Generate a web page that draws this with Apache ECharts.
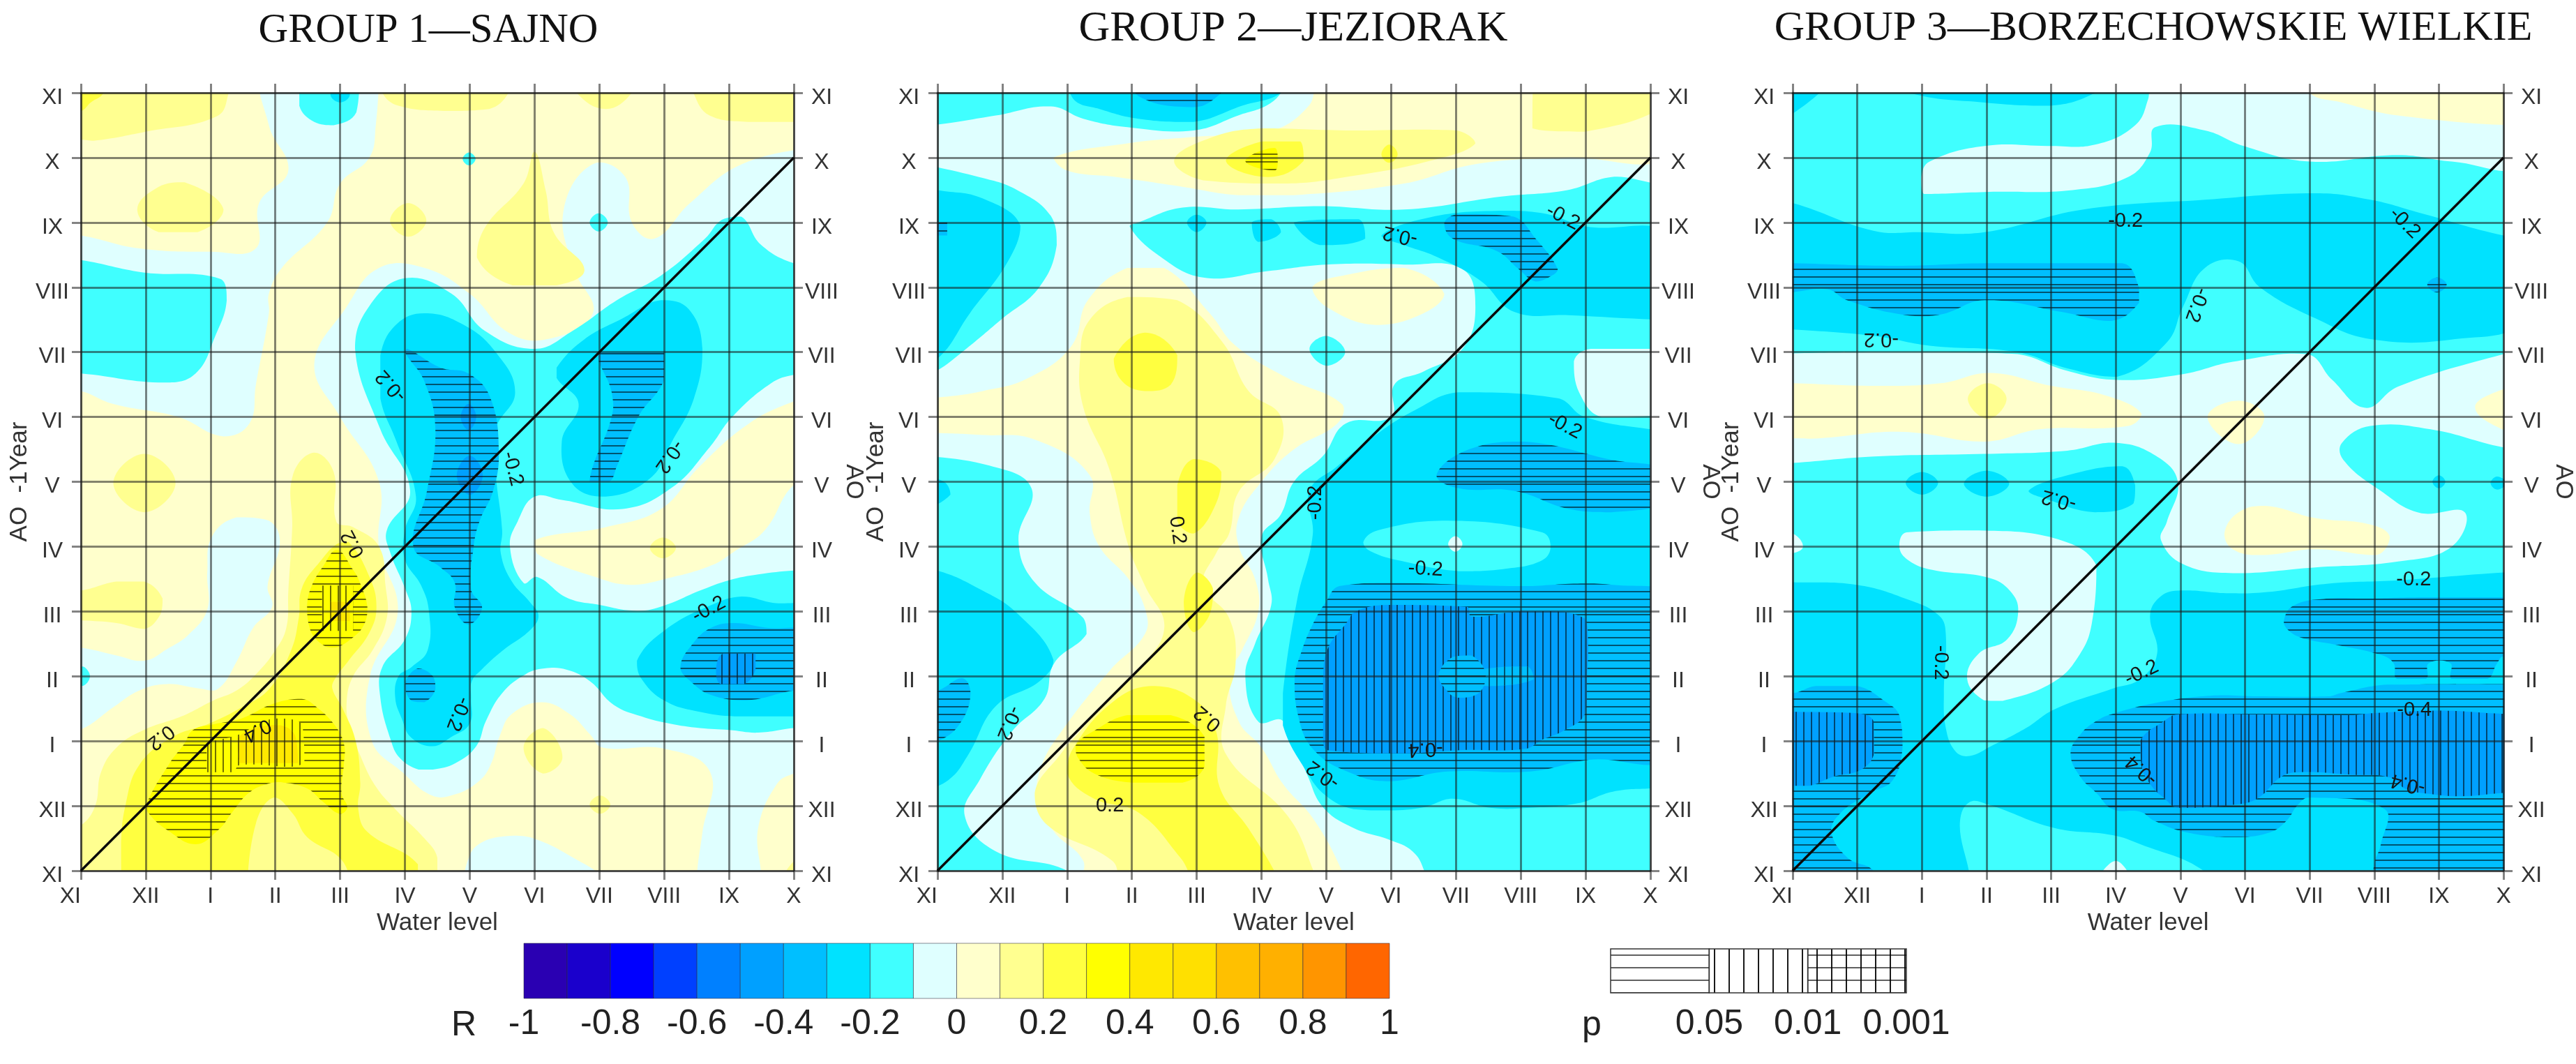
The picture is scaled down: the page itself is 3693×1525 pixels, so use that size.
<!DOCTYPE html>
<html><head><meta charset="utf-8">
<style>html,body{margin:0;padding:0;background:#fff}#c{width:3693px;height:1525px}</style>
<script src="https://cdn.jsdelivr.net/npm/echarts@6/dist/echarts.min.js"></script>
</head><body><div id="c"></div>
<script>
const xLabels = ['XI','XII','I','II','III','IV','V','VI','VII','VIII','IX','X'];
const yLabels = ['XI','XII','I','II','III','IV','V','VI','VII','VIII','IX','X','XI'];
const titles = ['GROUP 1—SAJNO','GROUP 2—JEZIORAK','GROUP 3—BORZECHOWSKIE WIELKIE'];
const bandEdges = [-1,-0.9,-0.8,-0.7,-0.6,-0.5,-0.4,-0.3,-0.2,-0.1,0,0.1,0.2,0.3,0.4,0.5,0.6,0.7,0.8,0.9];
const bandColors = ['#2A00B2','#1A00CC','#0000FF','#0040FF','#0080FF','#00A0FF','#00BFFF','#00E2FF','#40FFFF','#DFFFFF','#FFFFCC','#FFFF90','#FFFF40','#FFFF00','#FFE800','#FFE000','#FFC000','#FFB000','#FF9500','#FF6600'];
const colorbarTicks = [-1,-0.8,-0.6,-0.4,-0.2,0,0.2,0.4,0.6,0.8,1];
const pLabels = ['','0.05','0.01','0.001'];
const diagonal = [[0,0],[11,11]];

// each layer: [R band (null = no fill), hatch (0 none, 1 p<0.05 horizontal, 2 p<0.01 vertical), contour outline in axis units]
const g1Base = 0.05;
const g1Layers = [
 [-0.05,0,[[-.3,9.8],[0,9.8],[.9,9.6],[2,9.55],[2.7,9.6],[2.75,10.3],[3.2,10.8],[2.9,11.5],[2.85,12.3],[4.6,12.3],[4.55,11.5],[4.45,11],[4,10.6],[3.8,10],[3.1,9.3],[2.9,8.9],[2.9,8.6],[2.7,7.5],[2.6,6.9],[2.2,6.7],[1.5,7],[.5,7.2],[0,7.4],[-.3,7.4]]],
 [-0.05,0,[[11.3,11.15],[10.2,10.9],[9.4,10.3],[8.85,9.75],[8.5,10],[8.4,10.7],[7.9,10.9],[7.45,10.2],[7.6,9.3],[7.9,8.6],[7.2,8.2],[6.6,8.3],[6,8.9],[5.3,9.3],[4.6,9.3],[4.1,8.7],[3.6,7.8],[4,7],[4.6,6],[4.6,5],[4.89,4],[4.46,3],[4.49,2],[4.96,1.52],[5.42,1.16],[5.78,1.18],[6.14,1.38],[6.32,1.63],[6.47,2.1],[6.65,2.42],[7.11,2.6],[7.54,2.42],[7.86,2.1],[8.05,1.9],[9.01,1.88],[9.71,1.52],[9.59,.59],[9.51,0],[9.5,-.3],[10.41,-.3],[10.45,.66],[10.74,1.34],[11,1.5],[11.3,1.55]]],
 [-0.05,0,[[-.3,3.44],[0,3.44],[.55,3.32],[.98,3.24],[1.33,3.42],[1.66,3.64],[1.95,4.03],[1.95,4.6],[2.02,5.15],[2.4,5.45],[2.9,5.4],[3.07,5.07],[2.88,4.39],[2.95,4.07],[2.66,3.75],[2.41,3.24],[2.12,2.81],[1.84,2.81],[1.33,2.88],[.9,2.78],[.51,2.53],[0,2.18],[-.3,2.18]]],
 [-0.05,0,[[5.9,-.3],[5.95,.1],[6.14,.41],[6.67,.54],[7.04,.48],[7.6,.2],[8.05,-.1],[8.1,-.3]]],
 [0.05,0,[[7,5.1],[8.1,5.3],[8.95,5.58],[9.55,6.24],[10.31,6.9],[11,7.24],[11.3,7.3],[11.3,5.9],[11,5.95],[10.55,5.25],[10.09,4.93],[9.73,4.71],[9.01,4.5],[8.47,4.41],[7.94,4.53],[7.04,4.89]]],
 [0.15,0,[[-.3,12.3],[2.3,12.3],[2.28,12],[2.1,11.64],[1,11.4],[.2,11.26],[0,11.28],[-.3,11.28]]],
 [0.25,0,[[-.3,12.3],[.4,12.3],[.35,12],[.15,11.85],[0,11.72],[-.3,11.72]]],
 [0.15,0,[[.87,10.2],[1.2,10.55],[1.6,10.62],[2.2,10.2],[1.8,9.85],[1.2,9.85]]],
 [0.15,0,[[4.6,12.3],[4.65,12],[4.9,11.8],[5.6,11.72],[6.3,11.75],[6.6,12],[6.65,12.3]]],
 [0.15,0,[[7.6,12.3],[7.65,12],[8.1,11.75],[8.5,12],[8.55,12.3]]],
 [0.15,0,[[9.4,12.3],[9.45,12],[9.7,11.65],[10.3,11.55],[11,11.55],[11.3,11.55],[11.3,12.3]]],
 [0.15,0,[[4.77,10.03],[5.05,10.3],[5.33,10.03],[5.05,9.78]]],
 [0.15,0,[[7,11.09],[7.17,10.5],[7.3,9.84],[7.77,9.27],[7.34,9.03],[6.66,9.03],[6.11,9.46],[6.24,9.93],[6.83,10.6]]],
 [0.15,0,[[.5,5.98],[.98,6.43],[1.46,5.98],[.98,5.53]]],
 [0.15,0,[[-.3,4.32],[0,4.32],[.55,4.46],[.98,4.46],[1.26,4.2],[1.23,3.96],[.98,3.73],[.55,3.82],[0,3.86],[-.3,3.86]]],
 [0.15,0,[[-.3,.62],[0,.7],[.22,1],[.31,1.52],[.55,1.9],[.97,2.17],[1.55,2.38],[2.05,2.63],[2.4,2.78],[2.7,3.03],[3,3.4],[3.17,3.75],[3.2,4.3],[3.26,5.29],[3.27,6.1],[3.6,6.45],[3.9,6.15],[3.94,5.39],[4.2,5.3],[4.6,5],[4.7,4.4],[4.72,3.9],[4.5,3.4],[4.2,3],[4.1,2.6],[4.15,2.2],[4.3,1.8],[4.55,1.3],[4.9,.9],[5.3,.5],[5.5,.2],[5.5,-.3],[-.3,-.3]]],
 [0.25,0,[[.64,-.3],[.62,.41],[.69,1.02],[.9,1.63],[1.41,2.06],[1.98,2.27],[2.48,2.52],[2.91,2.81],[3.24,3.39],[3.36,3.89],[3.41,4.36],[3.7,4.78],[3.95,5.04],[4.13,5.07],[4.45,4.54],[4.56,4.07],[4.45,3.67],[4.13,3.24],[3.92,2.96],[3.88,2.81],[4.03,2.52],[4.24,2],[4.31,1.36],[4.28,.95],[4.42,.6],[5.2,.1],[5.2,-.3]]],
 [0.15,0,[[2.57,-.3],[2.7,.73],[2.98,1.13],[3.27,.88],[3.49,.52],[4.03,.16],[4.17,-.3]]],
 [0.35,1,[[1.05,.88],[1.01,1.02],[1.37,1.66],[1.59,1.95],[1.73,2.17],[2.05,2.26],[2.48,2.35],[2.98,2.58],[3.41,2.65],[3.63,2.53],[3.92,2.24],[4.06,1.95],[4.06,1.67],[4.02,1.2],[4.11,.98],[3.99,.88],[3.74,1.06],[3.49,1.27],[3.13,1.36],[2.88,1.34],[2.59,1.2],[2.34,.91],[2.12,.63],[1.77,.41],[1.33,.63]]],
 [0.35,2,[[1.94,1.52],[1.94,1.92],[2.41,2.09],[2.98,2.35],[3.41,2.27],[3.45,1.66],[2.45,1.63],[2.34,1.52]]],
 [0.45,2,[[2.45,1.66],[2.42,2.05],[3,2.25],[3.3,2.1],[3.35,1.66]]],
 [0.35,1,[[3.95,4.95],[4.2,4.64],[4.31,4.43],[4.42,4.07],[4.38,3.82],[4.2,3.6],[3.88,3.44],[3.63,3.57],[3.51,3.82],[3.49,4.1],[3.56,4.39],[3.74,4.7]]],
 [0.35,2,[[3.72,4.4],[4.2,4.4],[4.2,3.7],[3.72,3.7]]],
 [0.45,2,[[3.85,4.15],[4.15,4.15],[4.15,3.85],[3.85,3.85]]],
 // negative side
 [-0.15,0,[[-.3,9.42],[0,9.42],[.96,9.23],[2.15,9.13],[2.25,8.8],[2.07,8.24],[1.77,7.67],[1.3,7.53],[0,7.67],[-.3,7.67]]],
 [-0.15,0,[[3.37,12.3],[3.37,11.8],[3.6,11.55],[3.9,11.5],[4.25,11.7],[4.3,12.3]]],
 [-0.25,0,[[3.85,11.97],[4,12.1],[4.15,11.97],[4,11.85]]],
 [-0.15,0,[[5.89,10.98],[5.99,11.08],[6.09,10.98],[5.99,10.88]]],
 [-0.15,0,[[7.85,10],[7.99,10.14],[8.13,10],[7.99,9.86]]],
 [-0.15,0,[[-.08,3],[.02,3.15],[.14,3],[.02,2.85]]],
 [-0.15,0,[[11.3,4.63],[11,4.63],[10.45,4.57],[10,4.48],[9.55,4.32],[9,4.09],[8.58,4.01],[8,4.1],[7.5,4.21],[7.04,4.53],[6.83,4.44],[6.62,5],[6.74,5.39],[7,5.77],[7.42,5.72],[8.36,5.58],[9.12,5.91],[9.7,6.53],[10.05,7],[10.65,7.52],[11,7.65],[11.3,7.65],[11.3,9.37],[11,9.37],[10.49,9.66],[10.19,10.09],[9.89,10.04],[9.63,9.75],[8.95,9.18],[8.27,8.8],[7.59,8.33],[7,8.05],[6.23,8.33],[5.72,8.9],[5,9.14],[4.45,8.71],[4.23,8.05],[4.62,6.81],[5.08,5.86],[4.72,5.25],[4.78,4.89],[5,4.36],[5.1,4],[5,3.57],[4.65,3.14],[4.62,2.67],[4.78,2.02],[4.92,1.74],[5.21,1.56],[5.43,1.56],[5.78,1.66],[6.1,1.92],[6.25,2.31],[6.5,2.74],[6.86,3.03],[7.15,3.12],[7.5,3.1],[7.86,2.92],[8.22,2.56],[8.65,2.38],[9.08,2.27],[9.55,2.2],[10,2.17],[10.45,2.13],[11,2.2],[11.3,2.2]]],
 [-0.25,0,[[4.62,7.95],[4.87,8.43],[5.3,8.6],[5.89,8.43],[6.4,8],[6.7,7.38],[6.4,6.81],[6.4,6.15],[6.5,5.25],[6.48,4.89],[6.65,4.46],[6.93,4.14],[7.06,3.93],[6.93,3.71],[6.5,3.39],[6.18,3.1],[6.03,2.92],[6.02,2.67],[6,2.27],[5.71,2.06],[5.43,1.92],[5.1,2.05],[4.95,2.35],[4.85,2.67],[4.9,3],[5.1,3.14],[5.35,3.4],[5.37,4],[5.25,4.4],[5,4.8],[5,5.25],[5.17,5.77],[4.87,6.62],[4.62,7.29]]],
 [-0.25,0,[[7.34,7.76],[7.76,8.19],[8.36,8.52],[8.95,8.8],[9.38,8.66],[9.59,8.05],[9.46,7.29],[9.12,6.62],[8.78,6.05],[8.1,5.77],[7.59,5.96],[7.42,6.62],[7.68,7.2],[7.34,7.6]]],
 [-0.25,0,[[11.3,4],[10.63,4.14],[10.2,4.23],[9.73,4.1],[9.01,3.71],[8.58,3.24],[8.65,2.96],[9.01,2.62],[9.55,2.45],[10.09,2.38],[10.9,2.38],[11.3,2.38]]],
 [-0.35,1,[[11.3,3.67],[10.56,3.75],[10.09,3.82],[9.73,3.75],[9.44,3.5],[9.25,3.14],[9.41,2.92],[9.73,2.71],[10.27,2.63],[11,2.78],[11.3,2.78]]],
 [-0.45,2,[[9.8,3.1],[9.91,3.35],[10.41,3.35],[10.41,3.1],[10.23,2.88],[9.87,2.88]]],
 [-0.35,1,[[5,2.87],[5.2,3.12],[5.43,3],[5.47,2.8],[5.3,2.6],[5.1,2.62]]],
 [-0.35,0,[[5.04,8.05],[5.55,7.76],[5.98,7.67],[6.32,7.29],[6.45,6.43],[6.36,5.86],[6.15,5.39],[6.06,5],[6.02,4.34],[6.19,4.06],[5.98,3.8],[5.77,4.06],[5.77,4.44],[5.55,4.68],[5.13,5],[5.34,5.86],[5.47,6.81],[5.3,7.55],[5,8]]],
 [-0.45,0,[[5.86,7],[5.98,7.2],[6.1,7],[5.98,6.8]]],
 [-0.45,0,[[5.8,6.1],[6,6.4],[6.2,6.1],[6,5.8]]],
 [null,1,[[5.04,8.05],[5.55,7.76],[5.98,7.67],[6.32,7.29],[6.45,6.43],[6.36,5.86],[6.15,5.39],[6.06,5],[6.02,4.34],[6.19,4.06],[5.98,3.8],[5.77,4.06],[5.77,4.44],[5.55,4.68],[5.13,5],[5.34,5.86],[5.47,6.81],[5.3,7.55],[5,8]]],
 [-0.35,1,[[8.02,8],[9,8],[9,7.57],[8.6,7],[8.27,6.24],[8.15,6],[7.85,6],[7.9,6.24],[8.19,7],[8.19,7.38]]],
 // pale dots over the lower right
 [0.15,0,[[8.78,4.98],[8.98,5.14],[9.18,4.98],[8.98,4.82]]],
 [0.15,0,[[6.83,1.9],[7.13,2.2],[7.43,1.75],[7.13,1.5]]],
 [0.15,0,[[7.85,1.02],[8.01,1.16],[8.17,1.02],[8.01,.88]]],
 [0.15,0,[[11.3,.35],[10.85,-.1],[11.3,-.3]]]
];
const g1Labels = [[1.23,2.06,'0.2',218],[2.72,2.17,'0.4',208],[4.2,5.04,'0.2',118],[4.79,7.48,'-0.2',132],[6.66,6.2,'-0.2',-75],[9.08,6.39,'-0.2',235],[9.69,4.03,'-0.2',28],[5.82,2.42,'-0.2',249]];

const g2Base = -0.15;
const g2Layers = [
 [-0.05,0,[[-.3,11.5],[0,11.51],[.9,11.65],[1.75,11.79],[2.25,11.6],[2.93,11.47],[3.95,11.42],[4.64,11.65],[5.14,11.84],[5.65,12.3],[11.3,12.3],[11.3,10.7],[10.4,10.7],[9.72,10.5],[8.7,10.4],[7.2,10.2],[5.9,10.25],[4.64,10.2],[3.78,10.23],[3.1,10],[2.97,9.93],[3.4,9.5],[4.1,9.15],[5.1,9.25],[6,9.35],[7.2,9.35],[8.1,9.28],[8.3,8.7],[8.1,8.05],[7.5,7.7],[7.05,7.5],[7,7],[6.3,6.9],[5.95,6.4],[5.5,6],[5.3,5.5],[5,5.15],[5.1,4.5],[5.15,4.1],[4.9,3.5],[4.75,3],[4.95,2.3],[5.33,2.31],[5.7,1.49],[5.95,.98],[6.42,.66],[6.97,.48],[7.33,.3],[7.51,0],[7.55,-.3],[-.3,-.3]]],
 [-0.15,0,[[-.3,10.9],[.64,10.7],[1.23,10.5],[1.75,10.1],[1.84,9.65],[1.57,9],[.98,8.5],[.38,8],[0,7.72],[-.3,7.6]]],
 [-0.15,0,[[-.3,6.4],[.8,6.25],[1.45,5.9],[1.25,5.1],[1.5,4.45],[2.25,3.9],[2.3,3.65],[1.8,3.2],[1.65,2.65],[1.15,2.15],[.65,1.4],[.42,.85],[.9,.3],[2,0],[2,-.3],[-.3,-.3]]],
 [0.05,0,[[2.25,-.3],[2.25,.15],[1.8,.6],[1.55,1.05],[1.6,1.6],[1.95,2.2],[2.67,3.1],[3.2,3.65],[3.2,4.05],[2.95,4.5],[2.5,5],[2.35,5.5],[2.35,6.1],[1.5,6.65],[.7,6.72],[0,6.75],[-.3,6.75],[-.3,7.3],[0,7.3],[.7,7.4],[1.4,7.6],[2.07,8.1],[2.32,8.8],[2.93,9.3],[3.5,9.3],[4.2,8.6],[4.6,8.1],[5.4,7.6],[6.25,7.19],[6.17,6.9],[5.5,6.5],[5,6],[4.65,5.45],[4.65,5],[4.9,4.5],[4.95,4],[4.7,3.4],[4.5,3],[4.65,2.3],[5,1.9],[5.33,1.34],[5.8,.8],[6.24,0],[6.3,-.3]]],
 [0.05,0,[[1.79,11],[2.93,11.22],[3.95,11.32],[5.14,11.41],[5.73,11.8],[5.95,12.3],[11.3,12.3],[11.3,11.03],[9.7,11],[8.3,10.9],[7.2,10.6],[5.5,10.42],[4.64,10.42],[3.78,10.55],[2.76,10.7],[2,10.8]]],
 [0.05,0,[[5.78,9],[6.35,9.2],[7.2,9.3],[7.82,8.9],[7.5,8.6],[6.76,8.42],[6,8.7]]],
 [0.15,0,[[9.2,12.3],[9.18,11.45],[10,11.4],[11.3,11.85],[11.3,12.3]]],
 [0.15,0,[[3.65,10.95],[4.2,11.3],[5,11.45],[6.3,11.42],[8,11.42],[8.3,11.22],[7.6,10.95],[6.3,10.7],[5.4,10.6],[4.1,10.65]]],
 [0.25,0,[[4.45,10.95],[5,11.25],[5.6,11.25],[5.65,10.95],[5.1,10.7]]],
 [0.35,1,[[4.75,10.95],[5.2,11.15],[5.25,10.95],[5.2,10.8]]],
 [0.25,0,[[6.85,11.05],[6.97,11.2],[7.1,11.05],[6.97,10.92]]],
 [0.15,0,[[2.9,-.3],[2.7,.15],[1.7,.7],[1.5,1.2],[1.9,1.8],[2.2,2.15],[2.67,2.7],[3.1,3.1],[3.5,3.75],[3.2,4.4],[2.95,5],[2.65,6.2],[2.25,7.15],[2.2,7.9],[2.35,8.5],[2.93,8.85],[3.7,8.8],[4.4,8.15],[4.8,7.4],[5.3,7],[5.2,6.35],[4.65,5.85],[4.5,5.2],[4.3,4.9],[4.1,4.4],[4.5,3.9],[4.6,3.2],[4.45,2.55],[4.45,1.8],[5.4,.85],[5.8,0],[5.85,-.3]]],
 [0.25,0,[[2.72,7.9],[3.2,8.3],[3.7,7.95],[3.6,7.5],[3.2,7.4],[2.85,7.55]]],
 [0.25,0,[[3.7,5.95],[3.95,6.35],[4.38,6.15],[4.3,5.67],[3.95,5.2],[3.7,5.4]]],
 [0.25,0,[[3.8,4.15],[4,4.6],[4.25,4.35],[4.2,3.95],[3.95,3.68]]],
 [0.25,0,[[4.1,-.3],[3.75,.2],[3.1,.9],[2.4,1.12],[2,1.5],[2.1,1.9],[2.7,2.6],[3.3,2.85],[3.95,2.65],[4.3,2.15],[4.35,1.3],[4.8,.65],[5.25,-.1],[5.3,-.3]]],
 [0.35,1,[[2.13,1.93],[2.42,2.16],[2.93,2.4],[3.6,2.4],[4.12,2.07],[4.12,1.6],[3.78,1.36],[3,1.36],[2.42,1.5],[2.17,1.74]]],
 // negative side
 [-0.25,0,[[-.3,10.55],[0,10.5],[.7,10.37],[1.28,9.95],[1.07,9.37],[.5,8.6],[0,7.9],[-.3,7.9]]],
 [-0.35,1,[[-.3,10],[.15,10],[.15,9.8],[-.3,9.8]]],
 [-0.25,0,[[-.3,6.1],[.1,6],[.2,5.8],[-.3,5.55]]],
 [-0.25,0,[[-.3,4.63],[0,4.63],[.64,4.35],[1.23,3.97],[1.79,3.25],[1.57,2.92],[.9,2.54],[.47,1.78],[.17,1.4],[-.3,1.2]]],
 [-0.35,1,[[-.3,2.78],[0,2.78],[.38,2.97],[.51,2.73],[.34,2.26],[0,2],[-.3,2]]],
 [-0.25,0,[[2,12.3],[2.1,11.9],[2.5,11.75],[3.1,11.6],[3.95,11.55],[4.7,11.8],[5.3,12],[5.4,12.3]]],
 [-0.35,1,[[3,12.3],[3.1,11.95],[3.95,11.78],[4.3,11.93],[4.6,12.3]]],
 [-0.25,0,[[3.85,10],[4,10.12],[4.15,10],[4,9.85]]],
 [-0.25,0,[[4.85,10],[5.15,10.05],[5.3,9.85],[4.95,9.7]]],
 [-0.25,0,[[5.5,10],[6.5,10.05],[6.6,9.75],[5.9,9.65]]],
 [-0.25,0,[[6.85,9.8],[7.6,10.08],[8.7,10.18],[9.4,10.13],[10,9.94],[11.3,9.8],[11.3,8.5],[9.74,8.57],[8.9,8.62],[8.38,9.1],[7.7,9.47],[7.2,9.65]]],
 [-0.35,1,[[7.82,9.99],[8.04,10.13],[8.89,10.09],[9.23,9.75],[9.57,9.28],[9.48,9.18],[9.23,9.09],[8.97,9.28],[8.63,9.56],[7.95,9.75]]],
 [-0.15,0,[[5.74,8.05],[6,8.25],[6.29,8],[6,7.79]]],
 [-0.05,0,[[9.82,7.86],[10.08,8.05],[11.3,8.05],[11.3,7.05],[10.25,7],[9.9,7.38]]],
 [-0.25,0,[[5.74,5.86],[6.17,6.24],[6.76,6.72],[7.36,7.1],[8.04,7.38],[9.57,7.29],[9.99,7],[11,6.81],[11.3,6.81],[11.3,1.27],[11,1.27],[10.42,1.22],[9.88,1.04],[9.15,.97],[8.53,.97],[7.95,1.11],[7.51,.98],[6.97,.93],[6.42,.95],[5.99,1.16],[5.7,1.52],[5.33,2.24],[5.33,2.74],[5.55,4.18],[5.79,5.18]]],
 [-0.15,0,[[6.57,5.07],[6.79,5.25],[7.87,5.4],[9.33,5.22],[9.46,5],[9.33,4.79],[8.78,4.66],[8.05,4.62],[7.15,4.78],[6.68,4.93]]],
 [-0.05,0,[[7.88,5.04],[7.99,5.16],[8.1,5.04],[7.99,4.92]]],
 [-0.35,1,[[7.7,6.1],[8.2,6.5],[9.06,6.62],[10.4,6.34],[11.3,6.15],[11.3,5.72],[10.4,5.53],[9.74,5.58],[8.9,5.86],[8.04,5.9]]],
 [-0.35,1,[[6.2,4.39],[7,4.44],[8.97,4.39],[9.88,4.43],[10.42,4.41],[11.3,4.28],[11.3,1.8],[10.05,1.71],[9.15,1.53],[7.87,1.53],[6.97,1.38],[6.42,1.49],[5.8,1.87],[5.55,2.45],[5.51,2.96],[5.62,3.39],[5.8,3.82],[5.99,4.14]]],
 [-0.45,2,[[5.95,2.96],[6.02,3.42],[6.31,3.82],[6.46,4],[6.93,4.1],[8.17,4.07],[8.24,3.92],[9.04,4],[9.99,3.89],[10.04,3.46],[10.02,2.96],[9.99,2.42],[9.66,2.16],[9.33,2.02],[9.07,1.88],[8.06,1.86],[7.15,1.81],[6.02,1.86],[5.95,2.02]]],
 [-0.35,2,[[8.4,3.1],[9.1,3.15],[9.2,2.95],[8.4,2.85]]],
 [-0.35,1,[[7.73,3.03],[7.95,3.3],[8.24,3.32],[8.46,3.03],[8.35,2.74],[8.02,2.67],[7.8,2.85]]]
];
const g2Labels = [[1.1,2.28,'-0.2',248],[2.66,1,'0.2',0],[4.17,2.35,'0.2',140],[3.7,5.25,'0.2',-82],[5.83,5.68,'-0.2',90],[7.53,4.65,'-0.2',-3],[7.53,1.88,'-0.4',183],[5.95,1.48,'-0.2',145],[7.14,9.8,'-0.2',167],[9.65,10.08,'-0.2',-27],[9.68,6.86,'-0.2',-28]];

const g3Base = -0.15;
const g3Layers = [
 [-0.25,0,[[-.3,12.3],[.65,12.3],[0,11.68],[-.3,11.68]]],
 [-0.25,0,[[1.3,12.3],[1.8,12],[2.97,11.85],[3.99,11.8],[4.68,12],[5,12.3]]],
 [-0.05,0,[[1.99,10.7],[2.12,10.94],[2.97,11.18],[3.99,11.18],[4.68,11.2],[5.3,11.5],[5.5,11.9],[5.57,12.3],[11.3,12.3],[11.3,10.9],[10.2,10.94],[9.37,11.04],[8,10.94],[6.98,11.18],[6.38,11.42],[5.61,11.47],[5.53,11.08],[5.19,10.7],[4.33,10.5],[2.97,10.47],[2.03,10.44]]],
 [0.05,0,[[8,12.3],[8,12],[8.5,11.85],[9.37,11.65],[11.3,11.5],[11.3,12.3]]],
 [-0.25,0,[[-.3,10.3],[0,10.3],[1.26,9.87],[1.95,9.85],[2.97,9.85],[4.5,10.2],[6.38,10.35],[8.09,10.45],[8.94,10.35],[9.7,10.15],[11,9.8],[11.3,9.8],[11.3,8.5],[10.25,8.2],[8.94,8.2],[8.09,8.52],[7.23,9],[6.9,9.4],[6.38,9.3],[6.04,8.7],[5.79,8.15],[5.02,7.62],[4.25,7.75],[3.48,8],[2.12,8.1],[1.26,8.25],[0,8.35],[-.3,8.35]]],
 [-0.35,1,[[-.3,9.37],[0,9.37],[1.6,9.33],[2.97,9.37],[5.1,9.37],[5.36,9],[5.36,8.76],[4.93,8.48],[4.16,8.62],[2.97,8.8],[2.29,8.58],[1.69,8.58],[.84,8.8],[.54,8.97],[0,8.93],[-.3,8.93]]],
 [-0.35,1,[[9.82,9.04],[9.97,9.15],[10.12,9.04],[9.97,8.92]]],
 [-0.05,0,[[-.3,7.95],[0,7.98],[1.26,8],[2.29,8],[3.48,7.97],[4.25,7.71],[5.02,7.57],[6.04,7.66],[6.81,7.85],[7.96,7.97],[8.35,7.57],[8.86,7.14],[9.37,7.47],[11,7.97],[11.3,8],[11.3,6.53],[11,6.53],[9.87,6.81],[8.94,6.86],[8.5,6.6],[8.52,6.34],[9.1,5.86],[9.7,5.52],[10.4,5.53],[10.2,5],[9.37,4.77],[8.09,4.68],[6.81,4.59],[6.04,4.73],[5.7,5.1],[5.79,5.38],[5.96,6],[5.62,6.4],[5,6.6],[4.25,6.48],[2.97,6.43],[1.26,6.39],[0,6.29],[-.3,6.29]]],
 [0.05,0,[[-.3,7.52],[0,7.52],[1.26,7.48],[2.29,7.52],[3.05,7.68],[4,7.48],[4.85,7.33],[5.4,7.05],[5.19,6.86],[3.82,6.81],[2.97,6.62],[1.69,6.77],[.41,6.67],[0,6.67],[-.3,6.67]]],
 [0.15,0,[[2.71,7.28],[3.02,7.52],[3.31,7.28],[3.02,6.97]]],
 [0.05,0,[[6.42,7],[6.9,7.25],[7.3,7],[6.9,6.58]]],
 [0.05,0,[[10.56,7.15],[11,7.43],[11.3,7.43],[11.3,6.8],[11,6.8]]],
 [0.05,0,[[6.68,5.2],[6.9,5.53],[7.32,5.63],[8.09,5.44],[8.94,5.34],[9.24,5.15],[9.03,4.87],[8.09,4.96],[7.23,4.87],[6.81,4.96]]],
 [-0.05,0,[[1.65,5],[1.76,5.22],[2.88,5.25],[3.98,5.15],[4.7,4.71],[4.63,3.82],[4.45,3.35],[4.05,2.92],[3.25,2.62],[2.96,2.63],[2.7,2.96],[2.88,3.35],[3.32,3.57],[3.49,4],[3.36,4.32],[3.03,4.52],[2.16,4.64],[1.79,4.79]]],
 [-0.05,0,[[-.3,5.2],[0,5.2],[.16,5],[0,4.9],[-.3,4.9]]],
 [-0.05,0,[[4.65,-.3],[5,.15],[5.3,-.3]]],
 [-0.25,0,[[1.75,5.98],[2,6.15],[2.25,5.98],[2,5.8]]],
 [-0.25,0,[[2.65,5.97],[3,6.17],[3.35,5.97],[3,5.77]]],
 [-0.25,0,[[3.65,5.86],[4.25,6.1],[5.1,6.24],[5.3,5.95],[5.27,5.66],[4.68,5.53],[3.91,5.74]]],
 [-0.25,0,[[9.9,6],[10,6.1],[10.1,6],[10,5.9]]],
 [-0.25,0,[[10.8,5.98],[10.9,6.08],[11.05,5.98],[10.9,5.88]]],
 [-0.25,0,[[-.3,4.45],[0,4.45],[.99,4.41],[1.79,4.18],[2.27,3.93],[2.37,3.64],[2.34,2.74],[2.37,2.2],[2.52,1.84],[2.74,1.77],[3.07,1.92],[3.61,2.2],[4.05,2.49],[4.95,2.81],[5.38,2.96],[5.64,3.35],[5.53,3.93],[5.67,4.21],[5.96,4.32],[6.76,4.28],[7.35,4.3],[8.29,4.43],[9.38,4.48],[11,4.6],[11.3,4.6],[11.3,-.3],[6.4,-.3],[6.36,0],[5.38,.41],[4.95,.55],[4.05,.66],[3.03,1.02],[2.74,1.06],[2.59,.77],[2.6,-.3],[-.3,-.3]]],
 [-0.35,1,[[-.3,2.78],[0,2.74],[.36,2.85],[1,2.85],[1.45,2.6],[1.65,2.4],[1.7,1.9],[1.55,1.4],[1.2,1.2],[.75,.9],[.6,.6],[.85,.2],[1.25,0],[1.25,-.3],[-.3,-.3]]],
 [-0.45,2,[[-.3,2.45],[0,2.45],[.99,2.43],[1.25,2.31],[1.26,1.81],[1.06,1.56],[.63,1.45],[.26,1.31],[0,1.31],[-.3,1.31]]],
 [-0.35,1,[[7.6,3.85],[7.75,4.09],[8.3,4.2],[8.87,4.2],[9.75,4.22],[11,4.22],[11.3,4.22],[11.3,3],[11,3.3],[10.9,3.2],[10.75,2.96],[10.2,2.96],[10.18,3.2],[9.84,3.2],[9.8,2.96],[9.35,2.96],[9.3,3.2],[9.1,3.33],[8.44,3.48],[7.89,3.59],[7.67,3.71]]],
 [-0.35,1,[[4.3,1.81],[4.45,2.1],[4.7,2.31],[4.95,2.42],[5.67,2.6],[6.47,2.7],[7.2,2.69],[8.29,2.69],[8.48,2.74],[9.2,2.87],[11,2.88],[11.3,2.88],[11.3,-.3],[9,-.3],[9,.1],[9.1,.4],[9.16,.95],[8,1.13],[7.82,1.02],[7.64,.77],[7.38,.59],[6.84,.52],[6.11,.59],[5.6,.77],[5.38,.91],[4.95,.95],[4.7,1.2],[4.45,1.45]]],
 [-0.45,2,[[5.75,2.31],[5.96,2.41],[7.2,2.41],[8.65,2.4],[8.85,2.42],[9.38,2.45],[10.07,2.47],[11,2.42],[11.3,2.42],[11.3,1.2],[11,1.2],[10.36,1.15],[9.82,1.19],[9.49,1.26],[9.24,1.44],[8.65,1.48],[7.85,1.52],[7.56,1.45],[7.2,1.12],[6.84,1.02],[5.96,.97],[5.75,1.12],[5.56,1.3],[5.4,1.6],[5.38,2]]]
];
const g3Labels = [[5.15,10.02,'-0.2',0],[9.47,9.99,'-0.2',-45],[6.25,8.73,'-0.2',250],[1.37,8.2,'-0.2',180],[4.12,5.72,'-0.2',165],[9.61,4.49,'-0.2',0],[2.29,3.21,'-0.2',-90],[5.4,3.05,'-0.2',25],[9.62,2.47,'-0.4',0],[5.4,1.55,'-0.4',138],[9.52,1.34,'-0.4',165]];

const panelLayers = [g1Layers,g2Layers,g3Layers];
const panelLabels = [g1Labels,g2Labels,g3Labels];
const panelBase = [g1Base,g2Base,g3Base];
const panelLeft = [116,1344,2570];
const panelCenter = [609,1849,3082];
const titleTop = [10,6,6];
const titleSize = [59,62,60];
const PW = 1022, PH = 1115, PT = 133;
const gridLine = {color:'rgba(25,25,25,0.54)',width:3};
const sans = '"Liberation Sans",Arial,sans-serif';

function bandColor(v){ return bandColors[Math.floor((v+1)*10+1e-9)]; }
function hatchFill(kind, spacing, lw, color){
  const c = document.createElement('canvas');
  c.width = spacing; c.height = spacing;
  const g = c.getContext('2d');
  g.fillStyle = color;
  if(kind===1) g.fillRect(0,0,spacing,lw); else g.fillRect(0,0,lw,spacing);
  return {image:c, repeat:'repeat'};
}
const hatchPanel = {1:hatchFill(1,11,2,'rgba(0,0,0,0.56)'),2:hatchFill(2,11,2,'rgba(0,0,0,0.56)')};
const hatchKey = {1:hatchFill(1,18,2,'rgba(30,30,30,0.7)'),2:hatchFill(2,21,2,'rgba(0,0,0,0.9)')};

const grid=[], xAxis=[], yAxis=[], series=[], title=[];
panelLeft.forEach((left,i)=>{
  grid.push({left:left,top:PT,width:PW,height:PH,show:true,backgroundColor:bandColor(panelBase[i]),borderWidth:0});
  xAxis.push({gridIndex:i,type:'value',min:0,max:11,interval:1,position:'bottom',z:3,
    name:'Water level',nameLocation:'middle',nameGap:54,nameTextStyle:{fontFamily:sans,fontSize:35,color:'#333'},
    axisLine:{show:true,onZero:false,lineStyle:gridLine},axisTick:{show:true,length:13,lineStyle:gridLine},
    splitLine:{show:true,lineStyle:gridLine},
    axisLabel:{fontFamily:sans,fontSize:32,color:'#333',margin:21,alignMinLabel:'right',formatter:v=>xLabels[v]}});
  xAxis.push({gridIndex:i,type:'value',min:0,max:11,interval:1,position:'top',z:3,
    axisLine:{show:true,onZero:false,lineStyle:gridLine},axisTick:{show:true,length:13,lineStyle:gridLine},
    splitLine:{show:false},axisLabel:{show:false}});
  yAxis.push({gridIndex:i,type:'value',min:0,max:12,interval:1,position:'left',z:3,
    name:'AO  -1Year',nameLocation:'middle',nameGap:70,nameRotate:90,nameTextStyle:{fontFamily:sans,fontSize:35,color:'#333'},
    axisLine:{show:true,onZero:false,lineStyle:gridLine},axisTick:{show:true,length:13,lineStyle:gridLine},
    splitLine:{show:true,lineStyle:gridLine},
    axisLabel:{fontFamily:sans,fontSize:32,color:'#333',margin:41,align:'center',verticalAlign:'top',lineHeight:14,formatter:v=>yLabels[v]}});
  yAxis.push({gridIndex:i,type:'value',min:0,max:12,interval:1,position:'right',z:3,
    name:'AO',nameLocation:'middle',nameGap:52,nameRotate:-90,nameTextStyle:{fontFamily:sans,fontSize:35,color:'#333'},
    axisLine:{show:true,onZero:false,lineStyle:gridLine},axisTick:{show:true,length:13,lineStyle:gridLine},
    splitLine:{show:false},
    axisLabel:{fontFamily:sans,fontSize:32,color:'#333',margin:40,align:'center',verticalAlign:'top',lineHeight:14,formatter:v=>yLabels[v]}});
  const xi=i*2, yi=i*2;
  const layers=panelLayers[i];
  series.push({type:'custom',xAxisIndex:xi,yAxisIndex:yi,z:2,clip:true,silent:true,animation:false,
    data:layers.map((l,k)=>[l[2][0][0],l[2][0][1]]),
    renderItem:(params,api)=>{
      const l=layers[params.dataIndex];
      const pts=l[2].map(p=>api.coord(p));
      const kids=[];
      const shape={points:pts,smooth:0.42,smoothConstraint:[pts[0],pts[0]]};
      if(l[0]!==null) kids.push({type:'polygon',shape:shape,style:{fill:bandColor(l[0]),stroke:null}});
      if(l[1]) kids.push({type:'polygon',shape:shape,style:{fill:hatchPanel[l[1]],stroke:null}});
      return {type:'group',children:kids};
    }});
  series.push({type:'line',xAxisIndex:xi,yAxisIndex:yi,z:6,silent:true,animation:false,symbol:'none',data:diagonal,lineStyle:{color:'#0a0a0a',width:3.5}});
  const labs=panelLabels[i];
  series.push({type:'custom',xAxisIndex:xi,yAxisIndex:yi,z:7,silent:true,animation:false,
    data:labs.map(d=>[d[0],d[1]]),
    renderItem:(params,api)=>{
      const d=labs[params.dataIndex];
      const p=api.coord([d[0],d[1]]);
      return {type:'text',x:p[0],y:p[1],rotation:d[3]*Math.PI/180,
        style:{text:d[2],fill:'#161616',font:'29px "Liberation Sans"',align:'center',verticalAlign:'middle'}};
    }});
  title.push({text:titles[i],left:panelCenter[i],top:titleTop[i],textAlign:'center',
    textStyle:{fontFamily:'"Liberation Serif",serif',fontWeight:'normal',fontSize:titleSize[i],color:'#111'}});
});
title.push({text:'R',left:660,top:1440,textAlign:'center',textStyle:{fontFamily:sans,fontWeight:'normal',fontSize:50,color:'#222'}});
title.push({text:'p',left:2277,top:1440,textAlign:'center',textStyle:{fontFamily:sans,fontWeight:'normal',fontSize:50,color:'#222'}});

// colour key
grid.push({left:751,top:1352,width:1241,height:79,show:false});
xAxis.push({gridIndex:3,type:'value',min:-1,max:1,interval:0.2,axisLine:{show:false},axisTick:{show:false},splitLine:{show:false},
  axisLabel:{fontFamily:sans,fontSize:50,color:'#222',margin:12,customValues:colorbarTicks}});
yAxis.push({gridIndex:3,type:'value',min:0,max:1,show:false});
series.push({type:'custom',xAxisIndex:6,yAxisIndex:6,silent:true,animation:false,data:bandEdges.map(v=>[v,0]),clip:false,
  renderItem:(params,api)=>{
    const lo=bandEdges[params.dataIndex];
    const a=api.coord([lo,1]), b=api.coord([lo+0.1,0]);
    return {type:'rect',shape:{x:a[0],y:a[1],width:b[0]-a[0],height:b[1]-a[1]},
      style:{fill:bandColors[params.dataIndex],stroke:'rgba(40,40,60,0.55)',lineWidth:1}};
  }});
// p key
grid.push({left:2309,top:1360,width:424,height:63,show:false});
xAxis.push({gridIndex:4,type:'value',min:0,max:3,interval:1,axisLine:{show:false},axisTick:{show:false},splitLine:{show:false},
  axisLabel:{fontFamily:sans,fontSize:50,color:'#222',margin:20,formatter:v=>pLabels[v]}});
yAxis.push({gridIndex:4,type:'value',min:0,max:1,show:false});
series.push({type:'custom',xAxisIndex:7,yAxisIndex:7,silent:true,animation:false,data:[[0,0],[1,0],[2,0]],clip:false,
  renderItem:(params,api)=>{
    const k=params.dataIndex;
    const a=api.coord([k,1]), b=api.coord([k+1,0]);
    const shape={x:a[0],y:a[1],width:b[0]-a[0],height:b[1]-a[1]};
    const kids=[];
    if(k!==1) kids.push({type:'rect',shape:shape,style:{fill:hatchKey[1],stroke:null}});
    if(k!==0) kids.push({type:'rect',shape:shape,style:{fill:hatchKey[2],stroke:null}});
    kids.push({type:'rect',shape:shape,style:{fill:null,stroke:'#333',lineWidth:1.5}});
    return {type:'group',children:kids};
  }});

const chart=echarts.init(document.getElementById('c'),null,{renderer:'canvas'});
chart.setOption({animation:false,backgroundColor:'#fff',title,grid,xAxis,yAxis,series});
</script>
</body></html>
